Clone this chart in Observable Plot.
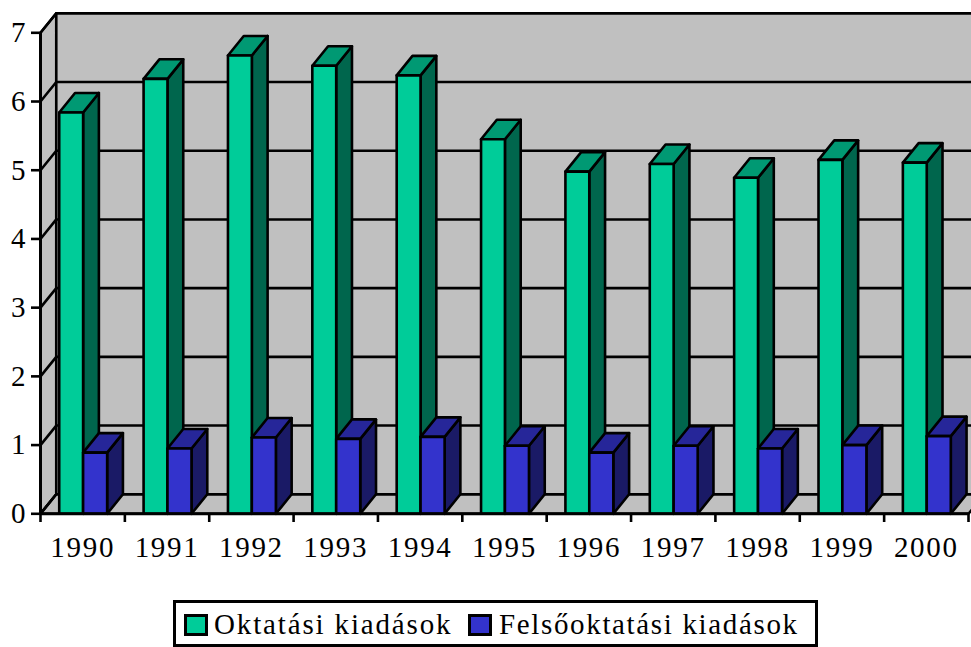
<!DOCTYPE html>
<html>
<head>
<meta charset="utf-8">
<script src="https://cdn.jsdelivr.net/npm/d3@7"></script>
<script src="https://cdn.jsdelivr.net/npm/@observablehq/plot@0.6"></script>
<style>
html,body{margin:0;padding:0;background:#fff;overflow:hidden}
#legend{box-sizing:border-box;position:absolute;left:173px;top:600px;width:645px;height:47px;border:3px solid #000;background:#fff;
font-family:"Liberation Serif",serif;font-size:29px;color:#000;line-height:1}
#legend span{position:absolute;white-space:nowrap;top:7px}
#legend i{position:absolute;top:11px;width:24px;height:22px;box-sizing:border-box;border:3px solid #000}
</style>
</head>
<body>
<div id="chart"></div>
<div id="legend"></div>
<script>
const years = ["1990","1991","1992","1993","1994","1995","1996","1997","1998","1999","2000"];
const oktatasi = [5.84,6.33,6.67,6.52,6.38,5.45,4.98,5.09,4.89,5.15,5.11];
const felsooktatasi = [0.89,0.95,1.11,1.09,1.12,0.99,0.89,0.99,0.95,1.00,1.13];
const seriesNames = ["Oktatási kiadások","Felsőoktatási kiadások"];
const frontColors = ["#00CC99","#3333CC"];
const topColors = ["#009973","#262699"];
const sideColors = ["#00664D","#1A1A66"];
const wallColor = "#C0C0C0";
const yTicks = [0,1,2,3,4,5,6,7];

// oblique depth, in scale units
const depthX = 0.187, depthY = 0.284;
const barOffsets = [[0.222,0.505],[0.505,0.79]];

const shift = ([x,y]) => [x+depthX, y+depthY];
const poly = (pts,fill) => pts.map(([x,y]) => ({x,y,fill}));

const faces = [];
const add = (pts,fill) => faces.push(poly(pts,fill));

// walls and floor
add([[0,0],[0,7],shift([0,7]),shift([0,0])], wallColor);
add([shift([0,0]),shift([0,7]),shift([11,7]),shift([11,0])], wallColor);
add([[0,0],shift([0,0]),shift([11,0]),[11,0]], wallColor);

const gridBack = yTicks.flatMap(k => [
  {x:0,y:k,g:"d"+k},{x:depthX,y:k+depthY,g:"d"+k},
  {x:11+depthX,y:k+depthY,g:"d"+k}
]);

// bars, left to right, front series first
years.forEach((_,i) => {
  [oktatasi,felsooktatasi].forEach((vals,s) => {
    const v = vals[i], a = i+barOffsets[s][0], b = i+barOffsets[s][1];
    add([[b,0],[b,v],shift([b,v]),shift([b,0])], sideColors[s]);
    add([[a,v],[b,v],shift([b,v]),shift([a,v])], topColors[s]);
    add([[a,0],[a,v],[b,v],[b,0]], frontColors[s]);
  });
});

const sw = 2.6;
const plot = Plot.plot({
  width: 971,
  height: 600,
  marginLeft: 40, marginRight: 0, marginTop: 13, marginBottom: 87,
  style: {background:"transparent", overflow:"hidden"},
  x: {type:"linear", domain:[0,11], range:[40,968]},
  y: {type:"linear", domain:[0,7], range:[513.3,32.3]},
  marks: [
    faces.slice(0,3).map(f => Plot.line(f,{x:"x",y:"y",fill:d=>d.fill,stroke:"#000",strokeWidth:sw,curve:"linear-closed",strokeLinejoin:"round"})),
    Plot.line(gridBack,{x:"x",y:"y",z:"g",stroke:"#000",strokeWidth:sw}),
    faces.slice(3).map(f => Plot.line(f,{x:"x",y:"y",fill:d=>d.fill,stroke:"#000",strokeWidth:sw,curve:"linear-closed",strokeLinejoin:"round"})),
    Plot.ruleY([0],{x1:0,x2:11,stroke:"#000",strokeWidth:sw+0.4}),
    Plot.ruleX([0],{y1:0,y2:7,stroke:"#000",strokeWidth:sw+0.4}),
    Plot.axisY({ticks:yTicks,anchor:"left",tickSize:9,tickPadding:6,tickFormat:d=>d,
      fontSize:29,fontFamily:"Liberation Serif",stroke:"#000",strokeWidth:sw,strokeOpacity:1,color:"#000",label:null}),
    Plot.axisX({ticks:d3.range(0,12),tickSize:9,tickFormat:()=>"",stroke:"#000",strokeWidth:sw,strokeOpacity:1,label:null}),
    Plot.axisX({ticks:years.map((_,i)=>i+0.5),tickSize:0,tickPadding:23,tickFormat:d=>years[Math.floor(d)],
      fontSize:29,fontFamily:"Liberation Serif",fill:"#000",label:null})
  ]
});
plot.querySelectorAll("text").forEach(t=>{ if(t.textContent.length>1) t.style.letterSpacing="1.7px"; });
document.getElementById("chart").appendChild(plot);

const lg = document.getElementById("legend");
[[8,38,1.85],[292,323,1.65]].forEach(([sx,tx,ls],s)=>{
  const i=document.createElement("i"); i.style.left=sx+"px"; i.style.background=frontColors[s]; lg.appendChild(i);
  const t=document.createElement("span"); t.style.left=tx+"px"; t.style.letterSpacing=ls+"px"; t.textContent=seriesNames[s]; lg.appendChild(t);
});
</script>
</body>
</html>
